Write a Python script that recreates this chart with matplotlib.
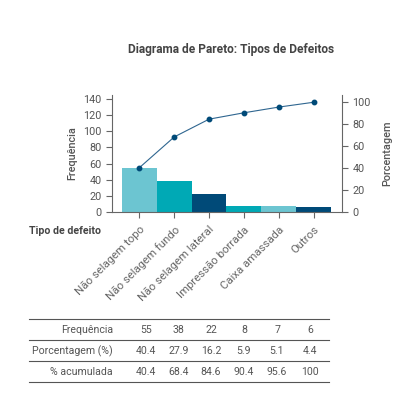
import matplotlib
matplotlib.use("Agg")
import matplotlib.pyplot as plt
from matplotlib.lines import Line2D

categories = ["Não selagem topo", "Não selagem fundo", "Não selagem lateral",
              "Impressão borrada", "Caixa amassada", "Outros"]
frequencia = [55, 38, 22, 8, 7, 6]
porcentagem = [40.4, 27.9, 16.2, 5.9, 5.1, 4.4]
acumulada = [40.4, 68.4, 84.6, 90.4, 95.6, 100]
acumulada_txt = ["40.4", "68.4", "84.6", "90.4", "95.6", "100"]
left_ticks = [0, 20, 40, 60, 80, 100, 120, 140]
right_ticks = [0, 20, 40, 60, 80, 100]
row_labels = ["Frequência", "Porcentagem (%)", "% acumulada"]

LIGHT = "#6CC5D1"
TEAL = "#00A9B5"
DARK = "#004A78"
bar_colors = [LIGHT, TEAL, DARK, TEAL, LIGHT, DARK]
TXT = "#555555"
AX = "#666666"

plt.rcParams['font.family'] = ['Roboto', 'DejaVu Sans']

W, H = 402, 399
fig = plt.figure(figsize=(W / 100, H / 100), dpi=100)
ax = fig.add_axes([112 / W, 1 - 212 / H, 230 / W, 117 / H])

x = list(range(len(categories)))
ax.bar(x, frequencia, width=1.0, color=bar_colors, edgecolor='none')
ax.set_xlim(-0.787, 5.816)
ymax = 145
ax.set_ylim(0, ymax)
ax.set_yticks(left_ticks)
ax.set_xticks(x)
ax.set_xticklabels(categories, rotation=45, ha='right', rotation_mode='anchor',
                   fontsize=8.2, color=TXT)
ax.tick_params(axis='y', labelsize=7.8, colors=AX, labelcolor=TXT, length=4, width=0.8)
ax.tick_params(axis='x', colors=AX, length=4, width=0.8, pad=5)
for s in ['top', 'right']:
    ax.spines[s].set_visible(False)
for s in ['left', 'bottom']:
    ax.spines[s].set_color(AX)
    ax.spines[s].set_linewidth(0.8)
ax.set_ylabel("Frequência", fontsize=7.8, color=TXT, fontweight='medium', labelpad=4)

ax2 = ax.twinx()
total = sum(frequencia)
ax2.set_ylim(0, ymax / total * 100)
ax2.set_yticks(right_ticks)
ax2.plot(x, acumulada, color="#2F6690", linewidth=0.8, marker='o',
         markersize=3.2, markerfacecolor=DARK, markeredgecolor=DARK)
ax2.tick_params(axis='y', labelsize=7.8, colors=AX, labelcolor=TXT, length=4, width=0.8)
for s in ['top', 'left', 'bottom']:
    ax2.spines[s].set_visible(False)
ax2.spines['right'].set_color(AX)
ax2.spines['right'].set_linewidth(0.8)
ax2.set_ylabel("Porcentagem", fontsize=7.8, color=TXT, fontweight='medium', labelpad=8)

fig.text(231 / W, 1 - 49 / H, "Diagrama de Pareto: Tipos de Defeitos",
         ha='center', va='center', fontsize=8.6, fontweight='bold', color="#444444")
fig.text(29 / W, 1 - 231 / H, "Tipo de defeito", ha='left', va='center',
         fontsize=7.6, fontweight='bold', color="#444444")

# table
line_ys = [319, 340, 361, 382]
for ly in line_ys:
    fig.add_artist(Line2D([29 / W, 329 / W], [1 - ly / H, 1 - ly / H],
                          color="#555555", linewidth=0.8))
row_ys = [330, 351, 372]
col_xs = [146, 179, 211, 244, 277, 310]
rows = [[str(v) for v in frequencia], [f"{v:.1f}" for v in porcentagem], acumulada_txt]
for ry, lab, vals in zip(row_ys, row_labels, rows):
    fig.text(113 / W, 1 - ry / H, lab, ha='right', va='center', fontsize=7.6, color=TXT)
    for cx, v in zip(col_xs, vals):
        fig.text(cx / W, 1 - ry / H, v, ha='center', va='center', fontsize=7.6, color=TXT)

fig.savefig("out.png", dpi=100)
